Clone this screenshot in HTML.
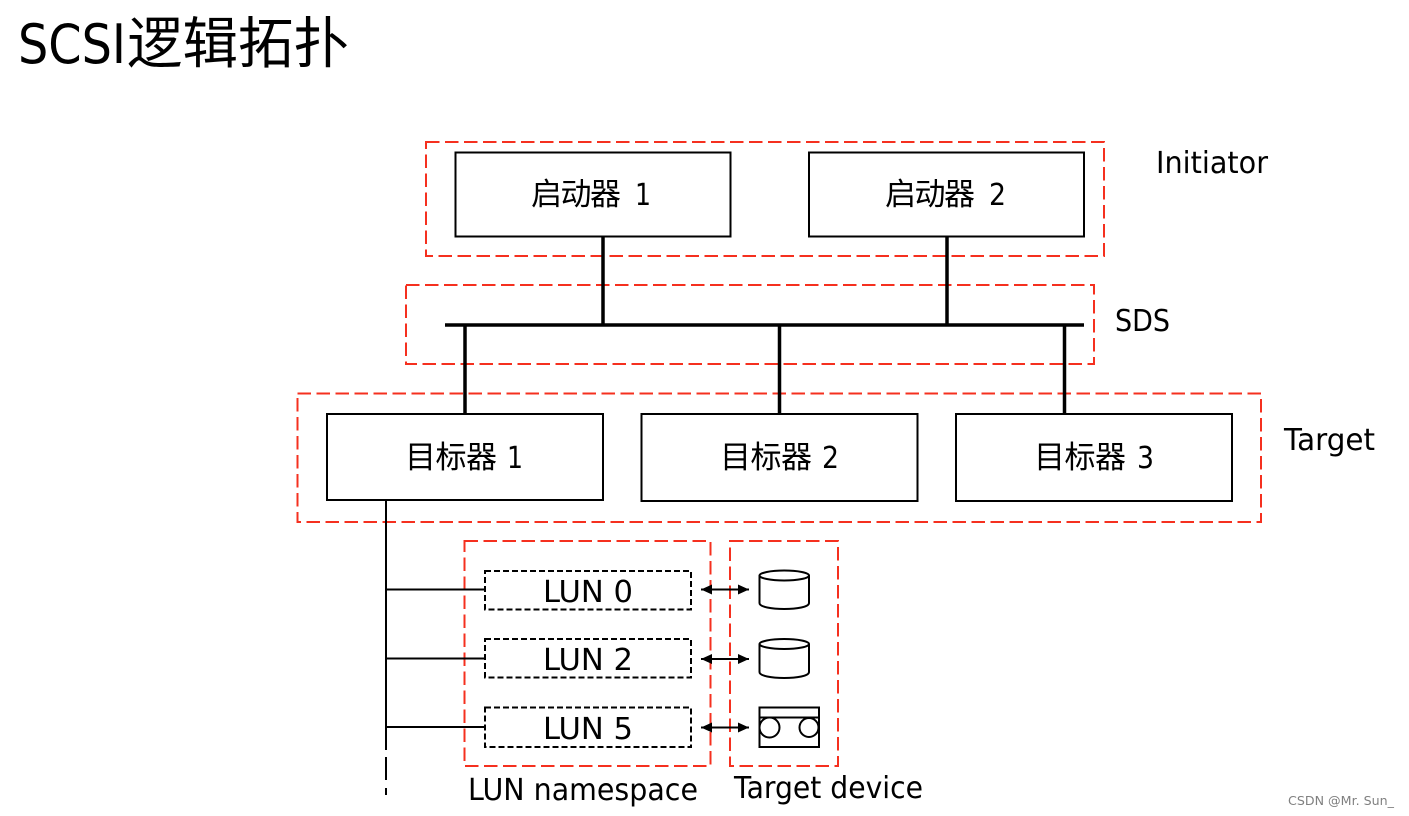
<!DOCTYPE html>
<html><head><meta charset="utf-8"><style>
html,body{margin:0;padding:0;background:#fff}
svg{display:block}
text{font-family:"DejaVu Sans","Liberation Sans",sans-serif;fill:#000}
.c{font-family:"Noto Sans CJK SC","WenQuanYi Zen Hei",sans-serif;font-size:31px}
.l{font-size:30px}
</style></head><body>
<svg width="1409" height="816" viewBox="0 0 1409 816" xmlns="http://www.w3.org/2000/svg">
<rect width="1409" height="816" fill="#fff"/>
<text x="18" y="63" font-size="54" textLength="108" lengthAdjust="spacingAndGlyphs">SCSI</text>
<text x="127" y="63" style="font-size:55.500px" class="c" textLength="222" lengthAdjust="spacing">逻辑拓扑</text>

<g fill="none" stroke="#f5301f" stroke-width="2" stroke-dasharray="13.500 5.500">
<rect x="426" y="142" width="678" height="114"/>
<rect x="406" y="285" width="688" height="79"/>
<rect x="297.500" y="393.500" width="963.500" height="128.500"/>
<rect x="464.500" y="541" width="246" height="225"/>
<rect x="730" y="541" width="108" height="225"/>
</g>

<g fill="#fff" stroke="#000" stroke-width="2">
<rect x="455.500" y="152.500" width="275" height="84"/>
<rect x="809" y="152.500" width="275" height="84"/>
<rect x="327" y="414" width="276" height="86"/>
<rect x="641.500" y="414" width="276" height="87"/>
<rect x="956" y="414" width="276" height="87"/>
</g>

<g stroke="#000" stroke-width="3.500" fill="none">
<path d="M445 325H1084M603 237V325M947 237V325M465 325V414M779.500 325V414M1064.500 325V414"/>
</g>
<g stroke="#000" stroke-width="2" fill="none">
<path d="M386 500V750M386 757V780M386 788V795"/>
<path d="M386 589.500H485M386 658.500H485M386 727H485"/>
<path d="M701 589.500H749M701 659H749M701 727.500H749"/>
</g>
<g fill="#000">
<path d="M701 589.500l11-5v10zM749 589.500l-11-5v10z"/>
<path d="M701 659l11-5v10zM749 659l-11-5v10z"/>
<path d="M701 727.500l11-5v10zM749 727.500l-11-5v10z"/>
</g>

<g fill="#fff" stroke="#000" stroke-width="2" stroke-dasharray="6 3">
<rect x="485" y="571" width="206" height="38.500"/>
<rect x="485" y="639" width="206" height="38.500"/>
<rect x="485" y="707.500" width="206" height="39.500"/>
</g>

<g fill="#fff" stroke="#000" stroke-width="2">
<path d="M759.500 575V603C759.500 611 809 611 809 603V575"/>
<ellipse cx="784.250" cy="575.500" rx="24.750" ry="5"/>
<path d="M759.500 644V672C759.500 680 809 680 809 672V644"/>
<ellipse cx="784.250" cy="644" rx="24.750" ry="5"/>
<rect x="759.500" y="707.500" width="59.500" height="39.500"/>
<path d="M759.500 717.500H819" fill="none"/>
<circle cx="769.500" cy="727.500" r="10"/>
<circle cx="809" cy="727.500" r="9.500"/>
</g>

<text x="531" y="205" class="c" textLength="90" lengthAdjust="spacing">启动器</text>
<text x="635" y="205" class="l" textLength="16" lengthAdjust="spacingAndGlyphs">1</text>
<text x="885" y="205" class="c" textLength="90" lengthAdjust="spacing">启动器</text>
<text x="989" y="205" class="l" textLength="17" lengthAdjust="spacingAndGlyphs">2</text>
<text x="405" y="468" class="c" textLength="92" lengthAdjust="spacing">目标器</text>
<text x="507" y="468" class="l" textLength="16" lengthAdjust="spacingAndGlyphs">1</text>
<text x="720" y="468" class="c" textLength="92" lengthAdjust="spacing">目标器</text>
<text x="822" y="468" class="l" textLength="17" lengthAdjust="spacingAndGlyphs">2</text>
<text x="1034" y="468" class="c" textLength="92" lengthAdjust="spacing">目标器</text>
<text x="1137" y="468" class="l" textLength="17" lengthAdjust="spacingAndGlyphs">3</text>

<g class="l" font-size="30">
<text x="543" y="602" textLength="90" lengthAdjust="spacingAndGlyphs">LUN 0</text>
<text x="543" y="670" textLength="90" lengthAdjust="spacingAndGlyphs">LUN 2</text>
<text x="543" y="739" textLength="90" lengthAdjust="spacingAndGlyphs">LUN 5</text>
<text x="1156" y="173" textLength="112" lengthAdjust="spacingAndGlyphs">Initiator</text>
<text x="1115" y="331" textLength="55" lengthAdjust="spacingAndGlyphs">SDS</text>
<text x="1284" y="450" textLength="91" lengthAdjust="spacingAndGlyphs">Target</text>
<text x="468" y="800" textLength="230" lengthAdjust="spacingAndGlyphs">LUN namespace</text>
<text x="734" y="798" textLength="189" lengthAdjust="spacingAndGlyphs">Target device</text>
</g>
<text x="1288" y="805" font-size="12" style="fill:#808080" textLength="106" lengthAdjust="spacingAndGlyphs">CSDN @Mr. Sun_</text>
</svg>
</body></html>
